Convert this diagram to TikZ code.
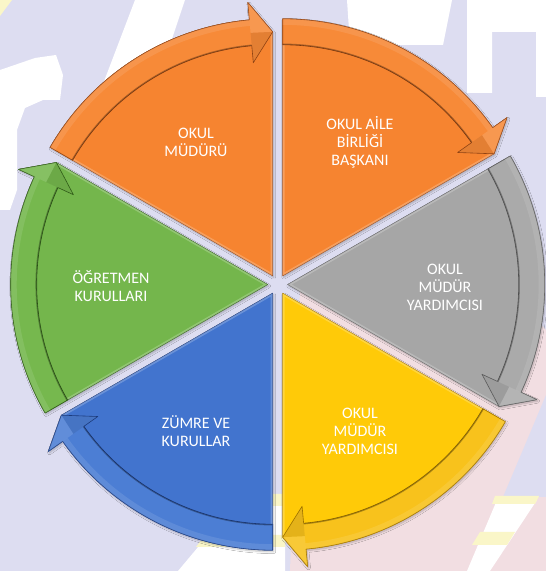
\documentclass[tikz,border=0pt]{standalone}
\usepackage{fontspec}
\setmainfont{Carlito}
\usetikzlibrary{shadows.blur}
\definecolor{bg}{RGB}{221,221,241}
\definecolor{pinkbg}{RGB}{242,222,226}
\definecolor{ylbg}{RGB}{250,246,200}
\definecolor{or}{RGB}{246,132,48}
\definecolor{orb}{RGB}{247,138,56}
\definecolor{ord}{RGB}{150,70,20}
\definecolor{gy}{RGB}{166,166,166}
\definecolor{gyb}{RGB}{170,170,170}
\definecolor{gyd}{RGB}{95,95,95}
\definecolor{ye}{RGB}{255,202,8}
\definecolor{yeb}{RGB}{248,194,28}
\definecolor{yed}{RGB}{165,120,0}
\definecolor{bl}{RGB}{66,116,206}
\definecolor{blb}{RGB}{76,126,212}
\definecolor{bld}{RGB}{30,62,130}
\definecolor{gr}{RGB}{116,182,76}
\definecolor{grb}{RGB}{118,184,78}
\definecolor{grd}{RGB}{50,95,25}
\begin{document}
\begin{tikzpicture}[x=1pt,y=1pt,
  lbl/.style={text=white, align=center, font=\fontsize{16}{18}\selectfont, inner sep=0pt},
  bodyshape/.style={line width=0.5pt, line join=round, blur shadow={shadow xshift=1pt, shadow yshift=-1.5pt, shadow blur steps=6, shadow opacity=25}},
  bandshape/.style={line width=0.6pt, line join=round}]
\useasboundingbox (0,0) rectangle (546,571);
\fill[bg] (0,0) rectangle (546,571);
% watermark background (pixel coordinates, y downwards)
\begin{scope}[yshift=571pt, y=-1pt]
 \fill[pinkbg] (290,571) -- (546,571) -- (546,330) -- (470,250) -- (400,240) -- (300,290) -- cycle;
 \fill[bg] (546,395) -- (525,445) -- (503,497) -- (546,497) -- cycle;
 \fill[white] (497,500) -- (537,500) -- (490,571) -- (467,571) -- cycle;
 \fill[ylbg] (495,496) -- (539,496) -- (535,504) -- (492,504) -- cycle;
 \fill[ylbg] (480,532) -- (515,532) -- (507,545) -- (472,545) -- cycle;
 \fill[white] (240,497) -- (285,497) -- (285,571) -- (178,571) -- cycle;
 \fill[ylbg] (238,494) -- (285,494) -- (285,506) -- (232,506) -- cycle;
 \fill[ylbg] (205,535) -- (285,535) -- (285,547) -- (196,547) -- cycle;
 \fill[ylbg] (0,0) -- (12,0) -- (0,16) -- cycle;
 % letters
 \fill[white] (467,0) -- (546,0) -- (546,97) -- (536,97) -- (536,32) -- (492,32) -- (492,93) -- (467,93) -- cycle;
 \fill[white] (347,0) -- (452,0) -- (443,45) -- (350,45) -- cycle;
 \fill[white] (95,105) -- (135,0) -- (185,0) -- (165,60) -- (140,110) -- cycle;
 \fill[white] (0,70) -- (35,58) -- (56,55) -- (63,75) -- (60,100) -- (43,100) -- (25,108) -- (17,130) -- (17,190) -- (10,210) -- (0,210) -- cycle;
\end{scope}
\def\R{257}\def\ri{231}\def\rm{244}\def\ro{274.5}\def\rn{214}\def\dl{5.2}
\foreach \a/\fc/\bc/\dc in {30/or/orb/ord, 90/or/orb/ord, 150/gr/grb/grd, 210/bl/blb/bld, 270/ye/yeb/yed, 330/gy/gyb/gyd}{
 \begin{scope}[shift={(277.7,286.5)}, shift={(\a+30:10)}]
  \filldraw[fill=\fc, draw=\dc, bodyshape] (0,0) -- (\a+60:\R) arc[start angle=\a+60, end angle=\a+\dl, radius=\R] -- (\a+\dl:\ro) -- (\a:\rm) -- cycle;
  \begin{scope}
   \clip (0,0) -- (\a+60:\R) arc[start angle=\a+60, end angle=\a+\dl, radius=\R] -- (\a+\dl:\ro) -- (\a:\rm) -- cycle;
   \draw[white, opacity=.22, line width=4pt] (0,0) -- (\a+60:\R) arc[start angle=\a+60, end angle=\a+\dl, radius=\R] -- (\a+\dl:\ro) -- (\a:\rm) -- cycle;
  \end{scope}
  \filldraw[fill=\bc, draw=\dc, bandshape] (\a+60:\R) arc[start angle=\a+60, end angle=\a+\dl, radius=\R] -- (\a+\dl:\ro) -- (\a:\rm) -- (\a+\dl:\rn) -- (\a+\dl:\ri) arc[start angle=\a+\dl, end angle=\a+60, radius=\ri] -- cycle;
  \begin{scope}
   \clip (\a+60:\R) arc[start angle=\a+60, end angle=\a+\dl, radius=\R] -- (\a+\dl:\ri) arc[start angle=\a+\dl, end angle=\a+60, radius=\ri] -- cycle;
   \draw[white, opacity=.1, line width=12pt] (\a+60:\R) arc[start angle=\a+60, end angle=\a+\dl, radius=\R];
   \draw[black, opacity=.3, line width=2.5pt] (\a+60:\ri) arc[start angle=\a+60, end angle=\a+\dl, radius=\ri];
  \end{scope}
  \fill[white, opacity=.12] (\a:\rm) -- (\a+\dl:\ro) -- (\a+\dl:\rm) -- cycle;
  \fill[black, opacity=.08] (\a:\rm) -- (\a+\dl:\rn) -- (\a+\dl:\rm) -- cycle;
 \end{scope}
}
\node[lbl] (t1) at (196,429) {OKUL\\MÜDÜRÜ};
\node[lbl] (t2) at (360,429) {OKUL AİLE\\BİRLİĞİ\\BAŞKANI};
\node[lbl] (t3) at (445,284) {OKUL\\MÜDÜR\\YARDIMCISI};
\node[lbl] (t4) at (360,140) {OKUL\\MÜDÜR\\YARDIMCISI};
\node[lbl] (t5) at (196,140) {ZÜMRE VE\\KURULLAR};
\node[lbl] (t6) at (111,285) {ÖĞRETMEN\\KURULLARI};
\end{tikzpicture}
\end{document}
